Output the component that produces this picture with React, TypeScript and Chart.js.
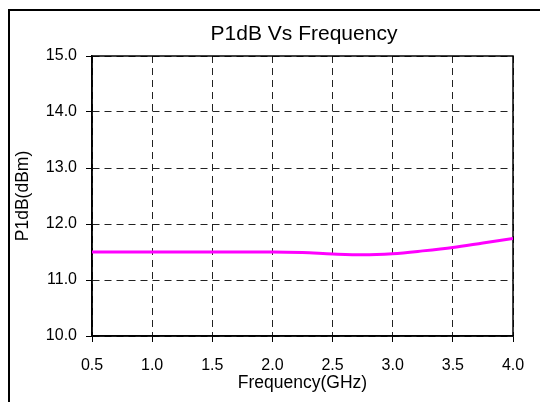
import React, { useEffect, useRef } from "react";
import { Chart, registerables } from "chart.js";

Chart.register(...registerables);

const chartTitle = "P1dB Vs Frequency";
const xTitle = "Frequency(GHz)";
const yTitle = "P1dB(dBm)";
const freqs = [0.5, 1.0, 1.5, 2.0, 2.25, 2.5, 2.75, 3.0, 3.25, 3.5, 3.75, 4.0];
const p1db = [11.5, 11.5, 11.5, 11.5, 11.49, 11.465, 11.45, 11.47, 11.52, 11.58, 11.66, 11.74];
const xMin = 0.5, xMax = 4.0, xStep = 0.5;
const yMin = 10, yMax = 15, yStep = 1;

const FONT = "'Liberation Sans', Arial, sans-serif";

const framePlugin = {
  id: "frame",
  beforeDraw(chart: any) {
    const ctx = chart.ctx;
    ctx.save();
    ctx.fillStyle = "#fff";
    ctx.fillRect(0, 0, chart.width, chart.height);
    ctx.strokeStyle = "#000";
    ctx.lineWidth = 2;
    ctx.beginPath();
    ctx.moveTo(9, chart.height);
    ctx.lineTo(9, 10);
    ctx.lineTo(chart.width, 10);
    ctx.stroke();
    ctx.restore();
  },
  beforeDatasetsDraw(chart: any) {
    const { ctx, chartArea } = chart;
    ctx.save();
    ctx.strokeStyle = "#000";
    ctx.lineWidth = 1.5;
    ctx.setLineDash([]);
    ctx.strokeRect(chartArea.left, chartArea.top, chartArea.right - chartArea.left, chartArea.bottom - chartArea.top);
    ctx.restore();
  },
  afterDraw(chart: any) {
    const { ctx, chartArea } = chart;
    ctx.save();
    ctx.fillStyle = "#000";
    ctx.font = `21px ${FONT}`;
    ctx.textAlign = "center";
    ctx.textBaseline = "middle";
    ctx.fillText(chartTitle, (chartArea.left + chartArea.right) / 2 + 1.5, 34);
    ctx.restore();
  },
};

export default function App() {
  const ref = useRef<HTMLCanvasElement>(null);
  useEffect(() => {
    if (!ref.current) return;
    const grid = {
      color: "#222",
      lineWidth: 1,
      tickBorderDash: [],
      tickColor: "#000",
      tickLength: 6,
      tickWidth: 1,
    };
    const border = { display: true, color: "#000", width: 1.5, dash: [7, 5] };
    const chart = new Chart(ref.current, {
      type: "line",
      data: {
        datasets: [
          {
            data: freqs.map((f, i) => ({ x: f, y: p1db[i] })),
            borderColor: "#FF00FF",
            backgroundColor: "#FF00FF",
            borderWidth: 3,
            pointRadius: 0,
            cubicInterpolationMode: "monotone",
            fill: false,
          },
        ],
      },
      options: {
        animation: false,
        responsive: false,
        layout: { padding: { left: 10, top: 56, right: 27, bottom: 0 } },
        plugins: { legend: { display: false }, title: { display: false }, tooltip: { enabled: false } },
        scales: {
          x: {
            type: "linear",
            min: xMin,
            max: xMax,
            grid,
            border,
            ticks: {
              stepSize: xStep,
              color: "#000",
              padding: 14,
              maxRotation: 0,
              font: { family: FONT, size: 16 },
              callback: (v: any) => Number(v).toFixed(1),
            },
            title: {
              display: true,
              text: xTitle,
              color: "#000",
              font: { family: FONT, size: 17.5 },
              padding: { top: 0, bottom: 8 },
            },
            afterFit: (s: any) => {
              s.height = 66;
            },
          },
          y: {
            type: "linear",
            min: yMin,
            max: yMax,
            grid,
            border,
            ticks: {
              stepSize: yStep,
              color: "#000",
              padding: 9,
              font: { family: FONT, size: 16 },
              callback: (v: any) => Number(v).toFixed(1),
            },
            title: {
              display: true,
              text: yTitle,
              color: "#000",
              font: { family: FONT, size: 17.5 },
              padding: { top: 3, bottom: 0 },
            },
            afterFit: (s: any) => {
              s.width = 82;
            },
          },
        },
      },
      plugins: [framePlugin],
    } as any);
    return () => chart.destroy();
  }, []);
  return (
    <div style={{ position: "absolute", left: 0, top: 0, width: 540, height: 402 }}>
      <canvas ref={ref} width={540} height={402} />
    </div>
  );
}
